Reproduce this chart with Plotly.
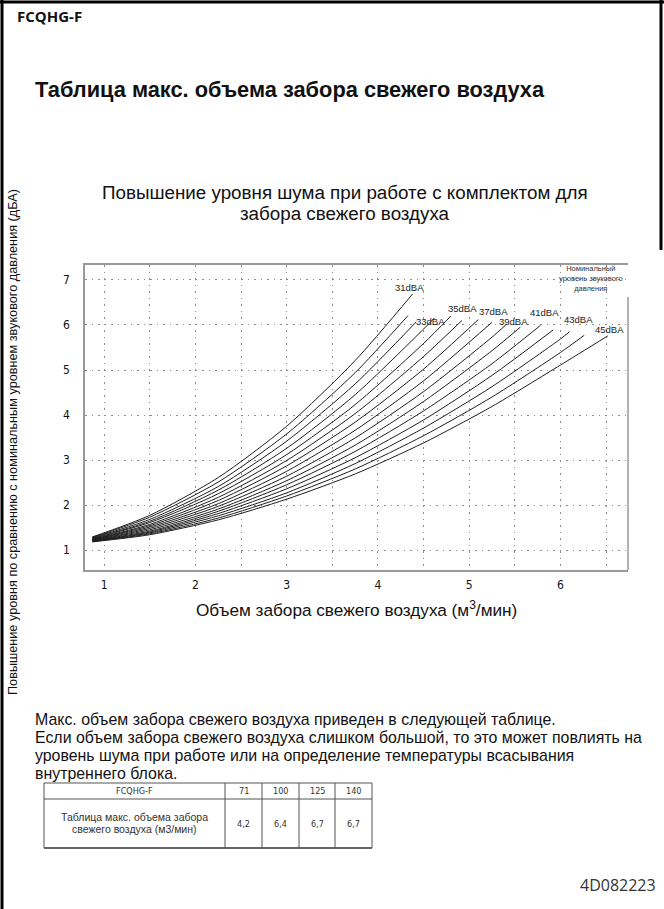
import plotly.graph_objects as go

# ---------------- data ----------------
levels = ["31dBA", "32dBA", "33dBA", "34dBA", "35dBA", "36dBA", "37dBA", "38dBA",
          "39dBA", "40dBA", "41dBA", "42dBA", "43dBA", "44dBA", "45dBA"]
airflow_grid = [0.87, 1.5, 2.25, 3.0, 3.75, 4.5, 5.25, 6.0]

noise_31 = [1.29, 1.77, 2.61, 3.75, 5.21]
noise_32 = [1.28, 1.73, 2.51, 3.58, 4.94]
noise_33 = [1.27, 1.68, 2.41, 3.42, 4.69]
noise_34 = [1.26, 1.64, 2.33, 3.26, 4.45, 5.91]
noise_35 = [1.25, 1.61, 2.25, 3.12, 4.23, 5.59]
noise_36 = [1.24, 1.57, 2.17, 2.99, 4.03, 5.30]
noise_37 = [1.235, 1.54, 2.10, 2.87, 3.84, 5.02]
noise_38 = [1.23, 1.51, 2.03, 2.75, 3.66, 4.76]
noise_39 = [1.22, 1.48, 1.97, 2.64, 3.49, 4.52, 5.73]
noise_40 = [1.215, 1.45, 1.91, 2.54, 3.33, 4.30, 5.43]
noise_41 = [1.21, 1.42, 1.86, 2.45, 3.19, 4.09, 5.14]
noise_42 = [1.20, 1.40, 1.81, 2.36, 3.05, 3.89, 4.88]
noise_43 = [1.195, 1.38, 1.76, 2.27, 2.92, 3.71, 4.63, 5.69]
noise_44 = [1.19, 1.36, 1.71, 2.20, 2.80, 3.54, 4.40, 5.39]
noise_45 = [1.18, 1.34, 1.67, 2.13, 2.69, 3.38, 4.19, 5.11]
noise = [noise_31, noise_32, noise_33, noise_34, noise_35, noise_36, noise_37, noise_38,
         noise_39, noise_40, noise_41, noise_42, noise_43, noise_44, noise_45]

end_airflow = [4.38, 4.33, 4.42, 4.62, 4.80, 4.92, 5.10, 5.25, 5.40, 5.56, 5.78, 5.92, 6.10, 6.26, 6.52]
end_noise = [6.69, 6.21, 6.07, 6.16, 6.20, 6.10, 6.12, 6.06, 6.00, 5.95, 5.99, 5.89, 5.85, 5.77, 5.76]

labelled = ["31dBA", "33dBA", "35dBA", "37dBA", "39dBA", "41dBA", "43dBA", "45dBA"]

table_models = ["71", "100", "125", "140"]
table_max_airflow = ["4,2", "6,4", "6,7", "6,7"]

x_ticks = [1, 2, 3, 4, 5, 6]
y_ticks = [1, 2, 3, 4, 5, 6, 7]

# ---------------- layout helpers ----------------
W, H = 664, 909
L, R, T, B = 85, 628, 265, 570


def px(x):
    return x / W


def py(y):
    return 1 - y / H


SANS = "Liberation Sans, Arial, sans-serif"
NARROW = "Liberation Sans Narrow, DejaVu Sans Condensed, Arial Narrow, sans-serif"

fig = go.Figure()
for i, lvl in enumerate(levels):
    ys = noise[i]
    xs = airflow_grid[:len(ys)] + [end_airflow[i]]
    fig.add_trace(go.Scatter(
        x=xs, y=ys + [end_noise[i]], mode="lines", name=lvl,
        line=dict(color="#1e1e1e", width=1, shape="spline", smoothing=0.7),
        showlegend=False, hoverinfo="skip"))

ann = []


def A(text, x, y, size, xanchor="center", yanchor="middle", font=SANS, color="#111",
      xref="paper", yref="paper", **kw):
    ann.append(dict(text=text, x=x, y=y, xref=xref, yref=yref, showarrow=False,
                    xanchor=xanchor, yanchor=yanchor,
                    font=dict(family=font, size=size, color=color), **kw))


# curve labels (positions in data space)
label_pos = {"31dBA": (4.35, 6.84), "33dBA": (4.58, 6.07), "35dBA": (4.93, 6.36),
             "37dBA": (5.27, 6.29), "39dBA": (5.48, 6.07), "41dBA": (5.83, 6.27),
             "43dBA": (6.20, 6.13), "45dBA": (6.54, 5.91)}
for lab in labelled:
    lx, ly = label_pos[lab]
    A(lab, lx, ly, 9.5, xref="x", yref="y", color="#222")

# nominal level caption
A("Номинальный<br>уровень звукового<br>давления", px(591), py(278), 7.5, color="#333")

# header texts
A("<b>FCQHG-F</b>", px(15), py(16), 15, xanchor="left", font="Open Sans, sans-serif")
A("<b>Таблица макс. объема забора свежего воздуха</b>", px(33), py(89), 21.8, xanchor="left")
A("Повышение уровня шума при работе с комплектом для", px(345), py(192), 18.8)
A("забора свежего воздуха", px(345), py(213), 18.8)
A("Объем забора свежего воздуха (м<sup>3</sup>/мин)", px(356), py(609), 17.2)
A("Повышение уровня по сравнению с номинальным уровнем звукового давления (дБА)",
  px(13), py(442), 12.7, textangle=-90)

para = ["Макс. объем забора свежего воздуха приведен в следующей таблице.",
        "Если объем забора свежего воздуха слишком большой, то это может повлиять на",
        "уровень шума при работе или на определение температуры всасывания",
        "внутреннего блока."]
for k, line in enumerate(para):
    A(line, px(33), py(719 + k * 18), 15.9, xanchor="left")

A("4D082223", px(658), py(885), 16, xanchor="right", font="Open Sans, sans-serif", color="#333")

# table
tL, tR, tT, tM, tB = 44, 372, 783, 799, 848
cols = [tL, 225, 262, 299, 335, tR]
shapes = []
lc = dict(color="#555", width=1)
for yy in (tT, tM):
    shapes.append(dict(type="line", xref="paper", yref="paper", x0=px(tL), x1=px(tR),
                       y0=py(yy), y1=py(yy), line=lc))
shapes.append(dict(type="line", xref="paper", yref="paper", x0=px(tL), x1=px(tR),
                   y0=py(tB), y1=py(tB), line=dict(color="#333", width=1.5)))
for cx in cols:
    shapes.append(dict(type="line", xref="paper", yref="paper", x0=px(cx), x1=px(cx),
                       y0=py(tT), y1=py(tB), line=lc))
A("FCQHG-F", px((cols[0] + cols[1]) / 2), py((tT + tM) / 2), 9, font=NARROW, color="#333")
A("Таблица макс. объема забора", px((cols[0] + cols[1]) / 2), py(817), 10.5, color="#333")
A("свежего воздуха (м3/мин)", px((cols[0] + cols[1]) / 2), py(829), 10.5, color="#333")
for j, (m, v) in enumerate(zip(table_models, table_max_airflow)):
    cx = (cols[j + 1] + cols[j + 2]) / 2
    A(m, px(cx), py((tT + tM) / 2), 9, font=NARROW, color="#333")
    A(v, px(cx), py((tM + tB) / 2), 9, font=NARROW, color="#333")

# page frame
fr = dict(color="#000", width=3)
shapes.append(dict(type="line", xref="paper", yref="paper", x0=px(2), x1=px(2), y0=0, y1=1, line=fr))
shapes.append(dict(type="line", xref="paper", yref="paper", x0=0, x1=1, y0=py(2), y1=py(2), line=fr))
shapes.append(dict(type="line", xref="paper", yref="paper", x0=px(661), x1=px(661), y0=py(250), y1=1, line=fr))

# partial right border of the plot
shapes.append(dict(type="line", xref="paper", yref="y", x0=px(R), x1=px(R), y0=0.556, y1=6.62,
                   line=dict(color="#999", width=1.5)))

grid = dict(gridcolor="#8c8c8c", griddash="1.5px,5px", gridwidth=1)

fig.update_layout(
    width=W, height=H, margin=dict(l=0, r=0, t=0, b=0),
    paper_bgcolor="white", plot_bgcolor="white",
    showlegend=False,
    xaxis=dict(domain=[px(L), px(R)], range=[0.79, 6.74], tickmode="array", tickvals=x_ticks,
               showgrid=True, **grid,
               minor=dict(dtick=0.5, tick0=0, showgrid=True, **grid),
               showline=True, linecolor="#999", linewidth=1.5, mirror=True, zeroline=False,
               ticks="outside", ticklen=3, tickcolor="rgba(0,0,0,0)",
               tickfont=dict(family=NARROW, size=12, color="#111")),
    yaxis=dict(domain=[py(B), py(T)], range=[0.556, 7.333], tickmode="array", tickvals=y_ticks,
               showgrid=True, **grid,
               showline=True, linecolor="#999", linewidth=1.5, zeroline=False,
               ticks="outside", ticklen=11, tickcolor="rgba(0,0,0,0)",
               tickfont=dict(family=NARROW, size=12, color="#111")),
    annotations=ann, shapes=shapes,
)

fig.write_html("out.html", config={"displayModeBar": False},
               post_script="document.body.style.margin='0px';")
